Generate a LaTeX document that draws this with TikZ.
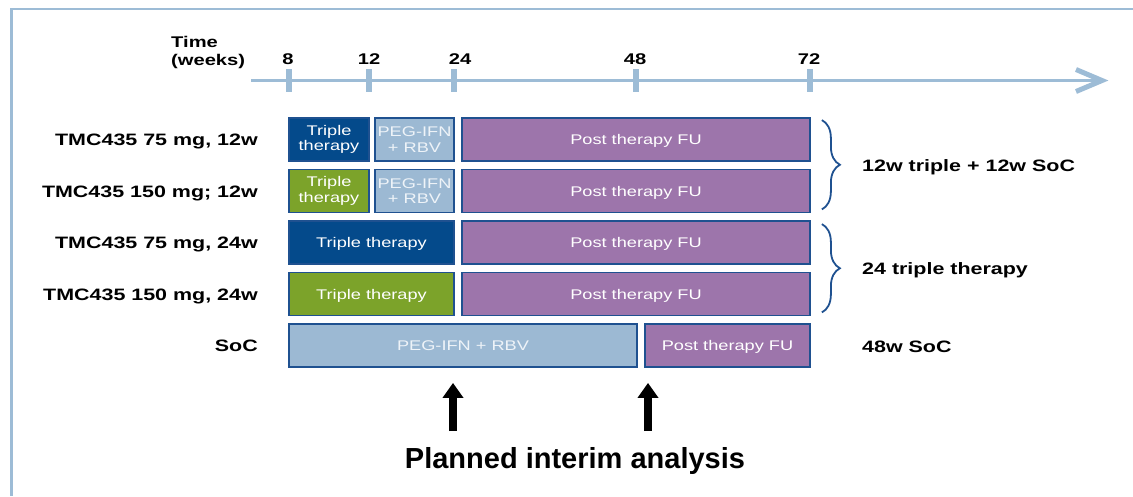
\documentclass[tikz,border=0pt]{standalone}
\usepackage{fontspec}
\setmainfont{Liberation Sans}
\newfontfamily\wide{Liberation Sans}[FakeStretch=1.3]
\usetikzlibrary{arrows.meta,decorations.pathreplacing}
\definecolor{axisblue}{HTML}{9DBCD6}
\definecolor{edgeblue}{HTML}{1F5190}
\definecolor{navy}{HTML}{044A8B}
\definecolor{leaf}{HTML}{7CA32A}
\definecolor{pale}{HTML}{9CB9D3}
\definecolor{mauve}{HTML}{9D75AB}
\definecolor{paletext}{HTML}{EEF3F8}

\begin{document}
\begin{tikzpicture}[x=1pt,y=-1pt,
  phase/.style={draw=edgeblue, line width=1.8pt, inner sep=0pt,
    minimum height=43pt, text=white, align=center,
    font=\wide\fontsize{14}{15.5}\selectfont},
  oneline/.style={text height=10pt, text depth=0pt},
  navybox/.style={phase, fill=navy},
  leafbox/.style={phase, fill=leaf},
  palebox/.style={phase, fill=pale, text=paletext},
  fubox/.style={phase, fill=mauve},
  rowlab/.style={anchor=base east, inner sep=0pt,
    font=\wide\bfseries\fontsize{16.5}{18}\selectfont},
  sidelab/.style={anchor=base west, inner sep=0pt,
    font=\wide\bfseries\fontsize{16.5}{18}\selectfont},
  ticklab/.style={anchor=base, inner sep=0pt,
    font=\wide\bfseries\fontsize{15.5}{18}\selectfont},
  tickmark/.style={draw=none, fill=axisblue, minimum width=6pt,
    minimum height=23pt, inner sep=0pt},
  grp/.style={draw=edgeblue, line width=1.8pt,
    decorate, decoration={brace, amplitude=18pt}},
  interim/.style={line width=7.5pt, -{Triangle[length=15pt 0, width=20pt 0]}}
]
\useasboundingbox (0,0) rectangle (1133,496);

% outer frame
\draw[axisblue, line width=2.8pt] (1133,9) -- (11.5,9) -- (11.5,496);

% time axis
\draw[axisblue, line width=3.5pt] (251,80.5) -- (1100,80.5);
\draw[axisblue, line width=5pt, line join=miter] (1076,69.5) -- (1102,80.5) -- (1076,91.5);
\foreach \x/\n in {289/t8, 369/t12, 453.5/t24, 635.5/t48, 810/t72}
  \node[tickmark] (\n) at (\x,80.5) {};
\node[ticklab] (l8)  at (288,64) {8};
\node[ticklab] (l12) at (369,64) {12};
\node[ticklab] (l24) at (460,64) {24};
\node[ticklab] (l48) at (635,64) {48};
\node[ticklab] (l72) at (809,64) {72};
\node[anchor=base west, inner sep=0pt, align=left,
  font=\wide\bfseries\fontsize{15.5}{18}\selectfont] (time) at (171,65) {Time\\(weeks)};

% arm 1
\node[navybox, minimum width=80pt] (a1) at (329,139.5) {Triple\\therapy};
\node[palebox, minimum width=79pt] (b1) at (414.5,139.5) {PEG-IFN\\+ RBV};
\node[fubox, oneline, minimum width=348pt] (c1) at (636,139.5) {Post therapy FU};
% arm 2
\node[leafbox, minimum width=80pt] (a2) at (329,191) {Triple\\therapy};
\node[palebox, minimum width=79pt] (b2) at (414.5,191) {PEG-IFN\\+ RBV};
\node[fubox, oneline, minimum width=348pt] (c2) at (636,191) {Post therapy FU};
% arm 3
\node[navybox, oneline, minimum width=165pt] (a3) at (371.5,242.5) {Triple therapy};
\node[fubox, oneline, minimum width=348pt] (c3) at (636,242.5) {Post therapy FU};
% arm 4
\node[leafbox, oneline, minimum width=165pt] (a4) at (371.5,294) {Triple therapy};
\node[fubox, oneline, minimum width=348pt] (c4) at (636,294) {Post therapy FU};
% standard of care
\node[palebox, oneline, minimum width=348pt] (a5) at (463,345.5) {PEG-IFN + RBV};
\node[fubox, oneline, minimum width=165pt] (c5) at (727.5,345.5) {Post therapy FU};

% arm labels
\node[rowlab] (r1) at (258,145.5) {TMC435 75 mg, 12w};
\node[rowlab] (r2) at (258,197) {TMC435 150 mg; 12w};
\node[rowlab] (r3) at (258,248.5) {TMC435 75 mg, 24w};
\node[rowlab] (r4) at (258,300) {TMC435 150 mg, 24w};
\node[rowlab] (r5) at (258,351.5) {SoC};

% grouping braces
\draw[grp] ([xshift=11pt,yshift=-3pt]c1.north east) -- ([xshift=11pt,yshift=4pt]c2.south east);
\draw[grp] ([xshift=11pt,yshift=-4pt]c3.north east) -- ([xshift=11pt,yshift=4pt]c4.south east);
\node[sidelab] (g1) at (862,171) {12w triple + 12w SoC};
\node[sidelab] (g2) at (862,274) {24 triple therapy};
\node[sidelab] (g3) at (862,352) {48w SoC};

% interim analysis markers
\coordinate (i1) at (453,431);
\coordinate (i2) at (648,431);
\draw[interim] (i1) -- ([yshift=-15pt]a5.south -| i1);
\draw[interim] (i2) -- ([yshift=-15pt]a5.south -| i2);
\node[anchor=base, inner sep=0pt, font=\bfseries\fontsize{29}{32}\selectfont]
  (plan) at (575,468) {Planned interim analysis};
\end{tikzpicture}
\end{document}
